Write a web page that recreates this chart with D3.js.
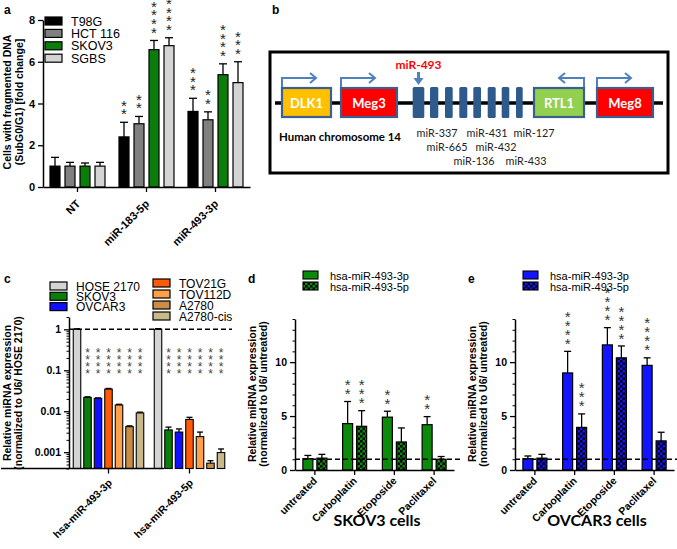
<!DOCTYPE html>
<html>
<head>
<meta charset="utf-8">
<script src="https://cdn.jsdelivr.net/npm/d3@7"></script>
<style>
body { margin: 0; background: #fff; }
svg { display: block; font-family: "Liberation Sans", Arial, sans-serif; }
</style>
</head>
<body>
<svg id="fig" width="677" height="549"></svg>
<script>
// ---- panel a: fragmented DNA ----
const groupsA = ["NT", "miR-183-5p", "miR-493-3p"];
const cellsA = ["T98G", "HCT 116", "SKOV3", "SGBS"];
const meanA = [[1.0, 1.0, 1.0, 1.0], [2.4, 3.03, 6.58, 6.77], [3.62, 3.22, 5.38, 5.0]];
const errA = [[0.42, 0.18, 0.15, 0.18], [0.7, 0.35, 0.44, 0.38], [0.63, 0.38, 0.52, 1.0]];
const starsA = [[0, 0, 0, 0], [2, 2, 4, 4], [3, 2, 4, 3]];
const yTicksA = [0, 2, 4, 6, 8];
const colorsA = ["#000000", "#808080", "#0b7d0b", "#d4d4d4"];

// ---- panel c: expression in cell lines (log) ----
const groupsC = ["hsa-miR-493-3p", "hsa-miR-493-5p"];
const cellsC = ["HOSE 2170", "SKOV3", "OVCAR3", "TOV21G", "TOV112D", "A2780", "A2780-cis"];
const meanC = [[1.0, 0.0217, 0.0206, 0.0347, 0.0142, 0.0042, 0.0091],
               [1.0, 0.0035, 0.0031, 0.0063, 0.0024, 0.00054, 0.00098]];
const upperC = [[1.03, 0.0225, 0.0212, 0.036, 0.0148, 0.0044, 0.0095],
                [1.04, 0.0041, 0.0037, 0.0071, 0.0031, 0.00062, 0.0012]];
const starsC = [[0, 4, 4, 4, 4, 4, 4], [0, 4, 4, 4, 4, 4, 4]];
const yTicksC = [0.001, 0.01, 0.1, 1];
const colorsC = ["#d4d4d4", "#0b7d0b", "#1010ff", "#ff5a0a", "#ffa04a", "#c98d48", "#c9b98a"];

// ---- panels d, e: drug treatment ----
const drugs = ["untreated", "Carboplatin", "Etoposide", "Paclitaxel"];
const mirs = ["hsa-miR-493-3p", "hsa-miR-493-5p"];
const meanD = [[1.05, 1.1], [4.3, 4.05], [4.9, 2.6], [4.2, 1.0]];
const errD = [[0.3, 0.35], [2.05, 1.45], [0.55, 1.3], [0.75, 0.25]];
const starsD = [[0, 0], [2, 3], [2, 0], [2, 0]];
const meanE = [[1.05, 1.1], [9.0, 3.95], [11.6, 10.4], [9.7, 2.7]];
const errE = [[0.25, 0.35], [2.0, 1.25], [1.6, 1.1], [0.7, 0.8]];
const starsE = [[0, 0], [4, 3], [4, 4], [4, 0]];
const yTicksDE = [0, 5, 10];

// ---- panel b: chromosome 14 locus ----
const genes = [
  { name: "DLK1", start: 7, end: 56, fill: "#ffc000", dir: 1 },
  { name: "Meg3", start: 66, end: 122, fill: "#ff0000", dir: 1 },
  { name: "RTL1", start: 259, end: 309, fill: "#92d050", dir: -1 },
  { name: "Meg8", start: 322, end: 378, fill: "#ff0000", dir: 1 }
];
const mirBlocks = [[137.7, 149.3], [155, 163.3], [170, 177.7], [184.3, 192.3], [198.3, 206], [212.7, 220.7], [226.7, 234.3], [241, 247.7]];
const mirLabels = [
  { name: "miR-337", pos: 162, row: 0 }, { name: "miR-431", pos: 212, row: 0 }, { name: "miR-127", pos: 259, row: 0 },
  { name: "miR-665", pos: 172, row: 1 }, { name: "miR-432", pos: 221, row: 1 },
  { name: "miR-136", pos: 199, row: 2 }, { name: "miR-433", pos: 251, row: 2 }
];

const svg = d3.select("#fig");
svg.append("rect").attr("width", 677).attr("height", 549).attr("fill", "#fff");
const defs = svg.append("defs");

function checker(id, color) {
  const p = defs.append("pattern").attr("id", id).attr("patternUnits", "userSpaceOnUse")
    .attr("width", 5).attr("height", 5);
  p.append("rect").attr("width", 5).attr("height", 5).attr("fill", color);
  p.append("rect").attr("width", 2.5).attr("height", 2.5).attr("fill", "#000");
  p.append("rect").attr("x", 2.5).attr("y", 2.5).attr("width", 2.5).attr("height", 2.5).attr("fill", "#000");
}
checker("chkGreen", "#0b8a0b");
checker("chkBlue", "#1414ff");

function panelLetter(x, y, t) {
  svg.append("text").attr("x", x).attr("y", y).attr("font-weight", "bold").attr("font-size", 12).text(t);
}

function errBar(g, x, y1, y2, cap) {
  g.append("line").attr("x1", x).attr("x2", x).attr("y1", y1).attr("y2", y2).attr("stroke", "#000").attr("stroke-width", 1.3);
  g.append("line").attr("x1", x - cap / 2).attr("x2", x + cap / 2).attr("y1", y2).attr("y2", y2).attr("stroke", "#000").attr("stroke-width", 1.3);
}

// stacked asterisks above a point
function stars(g, x, yTop, n, fs, gap, step, color) {
  for (let i = 0; i < n; i++) {
    g.append("text").attr("x", x).attr("y", yTop - gap - i * step + fs * 0.57)
      .attr("text-anchor", "middle").attr("font-size", fs).attr("fill", color).text("*");
  }
}

function styleAxis(a, fs) {
  a.select(".domain").attr("stroke-width", 1.5);
  a.selectAll(".tick line").attr("stroke-width", 1.3);
  a.selectAll("text").attr("font-size", fs).attr("font-weight", "bold").attr("font-family", "Liberation Sans, Arial").attr("fill", "#000");
}

function rotLabels(a, dx, dy) {
  a.selectAll(".tick text").attr("transform", "rotate(-45)").attr("text-anchor", "end")
    .attr("x", dx).attr("y", dy).attr("dy", "0.35em");
}

function yTitle(x1, x2, cy, l1, l2) {
  [[x1, l1], [x2, l2]].forEach(([x, t]) => {
    svg.append("text").attr("transform", `translate(${x},${cy}) rotate(-90)`).attr("text-anchor", "middle")
      .attr("font-weight", "bold").attr("font-size", 10.5).text(t);
  });
}

// ================= panel a =================
panelLetter(4, 14, "a");
const ga = svg.append("g");
const xA = d3.scaleBand().domain(groupsA).range([43, 250]);
const xA2 = d3.scaleBand().domain(cellsA).range([-30, 30]).paddingInner(1 / 3).paddingOuter(1 / 6);
const yA = d3.scaleLinear().domain([0, 8]).range([187, 20]);

groupsA.forEach((grp, i) => {
  cellsA.forEach((c, j) => {
    const x = xA(grp) + xA.bandwidth() / 2 + xA2(c);
    const cx = x + xA2.bandwidth() / 2;
    errBar(ga, cx, yA(meanA[i][j]), yA(meanA[i][j] + errA[i][j]), 8);
    ga.append("rect").attr("x", x).attr("y", yA(meanA[i][j])).attr("width", xA2.bandwidth())
      .attr("height", yA(0) - yA(meanA[i][j])).attr("fill", colorsA[j]).attr("stroke", "#000").attr("stroke-width", 1.2);
    stars(ga, cx, yA(meanA[i][j] + errA[i][j]), starsA[i][j], 15, 11.5, 8.6, "#222");
  });
});
const axA = ga.append("g").attr("transform", "translate(43,0)")
  .call(d3.axisLeft(yA).tickValues(yTicksA).tickSize(5).tickSizeOuter(0).tickFormat(d3.format("d")));
styleAxis(axA, 11);
const axAx = ga.append("g").attr("transform", `translate(0,${yA(0)})`)
  .call(d3.axisBottom(xA).tickSize(5).tickSizeOuter(0));
styleAxis(axAx, 11);
rotLabels(axAx, -10, 11);
yTitle(11, 23, 102, "Cells with fragmented DNA", "(SubG0/G1) [fold change]");

cellsA.forEach((c, j) => {
  ga.append("rect").attr("x", 45).attr("y", 17 + j * 12.4).attr("width", 17).attr("height", 8)
    .attr("fill", colorsA[j]).attr("stroke", "#000").attr("stroke-width", 1.2);
  ga.append("text").attr("x", 71).attr("y", 25.5 + j * 12.4).attr("font-size", 12.5).text(c);
});

// ================= panel b =================
panelLetter(272, 14, "b");
const gb = svg.append("g").attr("font-family", "Lato, 'Open Sans', sans-serif");
const xB = d3.scaleLinear().domain([0, 388]).range([275, 663]);
const chrY = 103, boxTop = 88, boxH = 29, arrowY = 78;
gb.append("rect").attr("x", 270).attr("y", 52).attr("width", 398).attr("height", 121)
  .attr("fill", "none").attr("stroke", "#000").attr("stroke-width", 3);
gb.append("line").attr("x1", xB(0)).attr("x2", xB(388)).attr("y1", chrY).attr("y2", chrY)
  .attr("stroke", "#000").attr("stroke-width", 3.5);
mirBlocks.forEach(b => {
  gb.append("rect").attr("x", xB(b[0])).attr("y", 87).attr("width", xB(b[1]) - xB(b[0])).attr("height", 31)
    .attr("rx", 1.5).attr("fill", "#2f5b8c");
});
genes.forEach(g => {
  gb.append("rect").attr("x", xB(g.start)).attr("y", boxTop).attr("width", xB(g.end) - xB(g.start)).attr("height", boxH)
    .attr("fill", g.fill).attr("stroke", "#3b5f90").attr("stroke-width", 2.2);
  gb.append("text").attr("x", (xB(g.start) + xB(g.end)) / 2).attr("y", boxTop + boxH / 2 + 5)
    .attr("text-anchor", "middle").attr("fill", "#fff").attr("font-weight", "bold").attr("font-size", 13).text(g.name);
  const x0 = g.dir > 0 ? xB(g.start) : xB(g.end);
  const x1 = x0 + g.dir * (g.dir > 0 ? 34 : 25);
  gb.append("path").attr("d", `M${x0},${boxTop - 1}V${arrowY}H${x1}`)
    .attr("fill", "none").attr("stroke", "#4f81bd").attr("stroke-width", 2);
  gb.append("path").attr("d", `M${x1 - g.dir * 6},${arrowY - 5}L${x1},${arrowY}L${x1 - g.dir * 6},${arrowY + 5}`)
    .attr("fill", "none").attr("stroke", "#4f81bd").attr("stroke-width", 2);
});
const mx = (xB(mirBlocks[0][0]) + xB(mirBlocks[0][1])) / 2;
gb.append("text").attr("x", mx).attr("y", 69).attr("text-anchor", "middle").attr("fill", "#ff0000")
  .attr("font-weight", "bold").attr("font-size", 12).text("miR-493");
gb.append("line").attr("x1", mx).attr("x2", mx).attr("y1", 72).attr("y2", 82).attr("stroke", "#4f81bd").attr("stroke-width", 3);
gb.append("path").attr("d", `M${mx - 5},${78}L${mx},${85}L${mx + 5},${78}Z`).attr("fill", "#4f81bd");
gb.append("text").attr("x", 279).attr("y", 141).attr("font-weight", "bold").attr("font-size", 11.5)
  .attr("textLength", 122).attr("lengthAdjust", "spacingAndGlyphs").text("Human chromosome 14");
mirLabels.forEach(m => {
  gb.append("text").attr("x", xB(m.pos) - 20.5).attr("y", 137 + m.row * 14)
    .attr("font-size", 11.5).attr("fill", "#222")
    .attr("textLength", 41).attr("lengthAdjust", "spacingAndGlyphs").text(m.name);
});

// ================= panel c =================
panelLetter(4, 283, "c");
const gc = svg.append("g");
const xC = d3.scaleBand().domain(groupsC).range([68, 230]);
const xC2 = d3.scaleBand().domain(cellsC).range([-36.75, 36.75]).paddingInner(3 / 10.5).paddingOuter(1.5 / 10.5);
const yC = d3.scaleLog().domain([0.0004, 2]).range([468.5, 317]);

groupsC.forEach((grp, i) => {
  cellsC.forEach((c, j) => {
    const x = xC(grp) + xC.bandwidth() / 2 + xC2(c);
    const cx = x + xC2.bandwidth() / 2;
    errBar(gc, cx, yC(meanC[i][j]), yC(upperC[i][j]), 6);
    gc.append("rect").attr("x", x).attr("y", yC(meanC[i][j])).attr("width", xC2.bandwidth())
      .attr("height", yC(0.0004) - yC(meanC[i][j])).attr("fill", colorsC[j]).attr("stroke", "#000").attr("stroke-width", 1.1);
    stars(gc, cx, yC(0.1) + 12, starsC[i][j], 12, 11, 7, "#444");
  });
});
gc.append("line").attr("x1", 69).attr("x2", 232).attr("y1", yC(1)).attr("y2", yC(1))
  .attr("stroke", "#000").attr("stroke-width", 1.5).attr("stroke-dasharray", "5,3");
const minorC = yC.ticks().filter(t => !yTicksC.includes(t));
gc.append("g").attr("transform", "translate(69,0)")
  .call(d3.axisLeft(yC).tickValues(minorC).tickSize(2.5).tickSizeOuter(0).tickFormat(""))
  .select(".domain").remove();
const axC = gc.append("g").attr("transform", "translate(69,0)")
  .call(d3.axisLeft(yC).tickValues(yTicksC).tickSize(5).tickSizeOuter(0).tickFormat(d3.format("~g")));
styleAxis(axC, 10.5);
const axCx = gc.append("g").attr("transform", `translate(0,${yC(0.0004)})`)
  .call(d3.axisBottom(xC).tickSize(5).tickSizeOuter(0));
axCx.select(".domain").attr("d", "M1,0H164");
styleAxis(axCx, 10.5);
rotLabels(axCx, -7.5, 10);
yTitle(11, 22, 393, "Relative miRNA expression", "(normalized to U6/ HOSE 2170)");

cellsC.forEach((c, j) => {
  const col = j < 3 ? 0 : 1;
  const row = j < 3 ? j : j - 3;
  const lx = col ? 153 : 50;
  const ly = col ? 283 + row * 11 : 286 + row * 10.3;
  gc.append("rect").attr("x", lx).attr("y", ly - 4).attr("width", 17).attr("height", 8)
    .attr("fill", colorsC[j]).attr("stroke", "#000").attr("stroke-width", 1.2);
  gc.append("text").attr("x", lx + 26).attr("y", ly + 4.5).attr("font-size", 12).text(c);
});

// ================= panels d, e =================
function drugPanel(off, mean, err, st, color, chk, title, letter, yLow) {
  panelLetter(off + 248, 283, letter);
  const g = svg.append("g");
  const x = d3.scaleBand().domain(drugs).range([off + 295, off + 454]);
  const x2 = d3.scaleBand().domain(mirs).range([-14, 14]).paddingInner(4 / 14).paddingOuter(2 / 14);
  const y = d3.scaleLinear().domain([0, 14]).range([yLow, yLow - 151]);
  const fills = [color, `url(#${chk})`];

  drugs.forEach((dr, i) => {
    mirs.forEach((m, j) => {
      const bx = x(dr) + x.bandwidth() / 2 + x2(m);
      const cx = bx + x2.bandwidth() / 2;
      errBar(g, cx, y(mean[i][j]), y(mean[i][j] + err[i][j]), 7);
      g.append("rect").attr("x", bx).attr("y", y(mean[i][j])).attr("width", x2.bandwidth())
        .attr("height", y(0) - y(mean[i][j])).attr("fill", fills[j]).attr("stroke", "#000").attr("stroke-width", 1.2);
      stars(g, cx, y(mean[i][j] + err[i][j]), st[i][j], 15, 11, 9, "#333");
    });
  });
  g.append("line").attr("x1", off + 295).attr("x2", Math.min(off + 462, 677)).attr("y1", y(1)).attr("y2", y(1))
    .attr("stroke", "#000").attr("stroke-width", 1.5).attr("stroke-dasharray", "5,3");
  g.append("g").attr("transform", `translate(${off + 295},0)`)
    .call(d3.axisLeft(y).tickValues(d3.range(0, 15).filter(t => !yTicksDE.includes(t))).tickSize(2.5).tickSizeOuter(0).tickFormat(""))
    .select(".domain").remove();
  const ay = g.append("g").attr("transform", `translate(${off + 295},0)`)
    .call(d3.axisLeft(y).tickValues(yTicksDE).tickSize(5).tickSizeOuter(0).tickFormat(d3.format("d")));
  styleAxis(ay, 10.5);
  const ax = g.append("g").attr("transform", `translate(0,${y(0)})`)
    .call(d3.axisBottom(x).tickSize(5).tickSizeOuter(0));
  styleAxis(ax, 10.5);
  rotLabels(ax, -6, 6.5);
  yTitle(off + 256, off + 267, 394, "Relative miRNA expression", "(normalized to U6/ untreated)");

  mirs.forEach((m, j) => {
    g.append("rect").attr("x", off + 303).attr("y", 271 + j * 11).attr("width", 15).attr("height", 8)
      .attr("fill", fills[j]).attr("stroke", "#000").attr("stroke-width", 1.1);
    g.append("text").attr("x", off + 330).attr("y", 279.5 + j * 11).attr("font-size", 11).text(m);
  });
  svg.append("text").attr("x", off + 377).attr("y", 526).attr("text-anchor", "middle")
    .attr("font-family", "Lato, 'Open Sans', sans-serif").attr("font-weight", "bold").attr("font-size", 16).text(title);
}
drugPanel(0, meanD, errD, starsD, "#0b8a0b", "chkGreen", "SKOV3 cells", "d", 470);
drugPanel(220, meanE, errE, starsE, "#1414ff", "chkBlue", "OVCAR3 cells", "e", 470);
</script>
</body>
</html>
